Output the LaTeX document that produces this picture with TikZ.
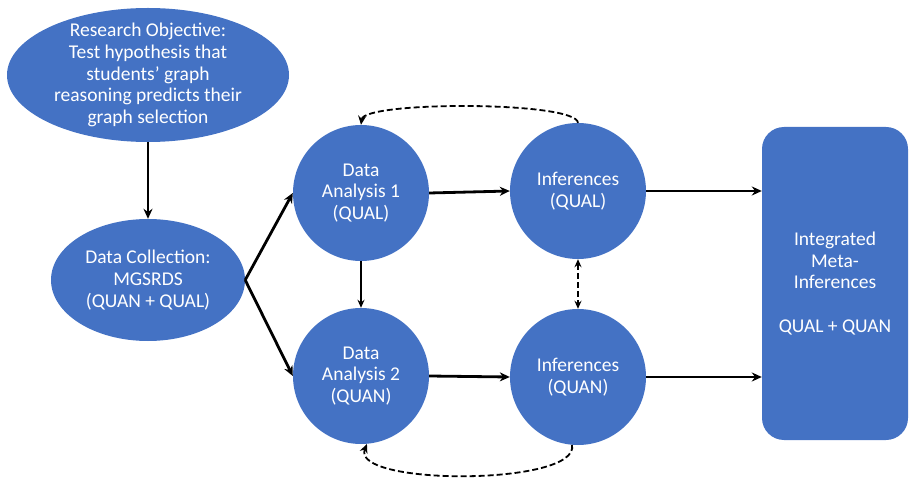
\documentclass[tikz,border=0pt]{standalone}
\usepackage{fontspec}
\setmainfont{Carlito}
\usetikzlibrary{shapes.geometric,arrows.meta}
\definecolor{pblue}{HTML}{4472C4}
\begin{document}
\begin{tikzpicture}[x=1pt,y=-1pt,
  blob/.style={fill=pblue,draw=none,inner sep=0pt},
  ell/.style={blob,ellipse},
  circ/.style={blob,circle,minimum size=136pt},
  txt/.style={text=white,align=center,font=\fontsize{19.5}{21.8}\selectfont},
  arr/.style={line width=2.8pt,-{Stealth[length=10pt,width=9pt]}},
  thinarr/.style={line width=1.5pt,-{Stealth[length=8pt,width=7pt]}},
  dashline/.style={line width=1.8pt,dash pattern=on 6pt off 3pt}
]
\useasboundingbox (0,0) rectangle (910,478);
\node[ell,minimum width=282pt,minimum height=134pt,
  label={[txt]center:Research Objective:\\Test hypothesis that\\students’ graph\\reasoning predicts their\\graph selection}] (obj) at (148,75) {};
\node[ell,minimum width=194pt,minimum height=122pt,
  label={[txt]center:Data Collection:\\MGSRDS\\(QUAN + QUAL)}] (dc) at (148,280) {};
\node[circ,txt] (da1) at (361,193) {Data\\Analysis 1\\(QUAL)};
\node[circ,txt] (da2) at (361,376) {Data\\Analysis 2\\(QUAN)};
\node[circ,txt] (iql) at (578,191) {Inferences\\(QUAL)};
\node[circ,txt] (iqn) at (578,377) {Inferences\\(QUAN)};
\node[blob,rounded corners=22pt,minimum width=146pt,minimum height=313pt,txt] (meta) at (835,283.5) {Integrated\\Meta-\\Inferences\\[21.8pt]QUAL + QUAN};

\draw[arr] (obj.south) -- (dc.north);
\draw[arr] (dc.east) -- (da1.west);
\draw[arr] (dc.east) -- (da2.west);
\draw[arr] (da1.east) -- (iql.west);
\draw[arr] (da2.east) -- (iqn.west);
\draw[arr] (iql.east) -- (iql.east -| meta.west);
\draw[arr] (iqn.east) -- (iqn.east -| meta.west);
\draw[thinarr] (da1.south) -- (da2.north);
\draw[dashline,{Stealth[length=8pt,width=7pt]}-{Stealth[length=8pt,width=7pt]}] (iql.south) -- (iqn.north);
\draw[dashline,-{Stealth[length=9pt,width=8pt]}] (iql.north) .. controls (576,101) and (364,101) .. (da1.north);
\draw[dashline,-{Stealth[length=9pt,width=8pt]}] (iqn.265) .. controls (580,486) and (350,486) .. (da2.275);
\end{tikzpicture}
\end{document}
